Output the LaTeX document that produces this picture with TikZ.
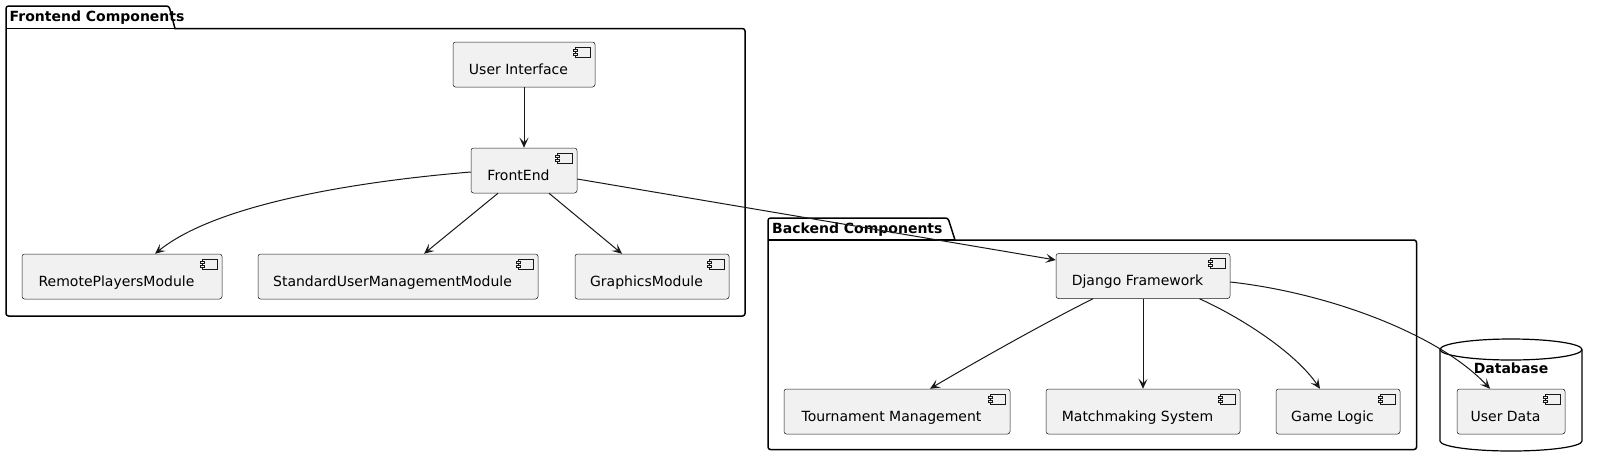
\documentclass[tikz,border=0pt]{standalone}
\usepackage{fontspec}
\setmainfont{DejaVu Sans}
\usetikzlibrary{arrows.meta,calc}
\definecolor{linec}{HTML}{181818}
\definecolor{compfill}{HTML}{F1F1F1}
\tikzset{
  comp/.style={draw=linec, fill=compfill, line width=0.5pt, rounded corners=2.5pt,
    minimum height=45pt, inner sep=0pt},
  comptext/.style={font=\fontsize{14}{16}\selectfont, inner sep=0pt, text height=10.5pt,
    text depth=3pt, xshift=-5.5pt, yshift=-6pt, text=black},
  pkg/.style={draw=black, line width=1.5pt},
  pkgtitle/.style={font=\bfseries\fontsize{14}{16}\selectfont, inner sep=0pt, anchor=west,
    text height=10.5pt, text depth=3pt},
  conn/.style={draw=linec, line width=1pt, -{Stealth[length=10pt,width=9pt,inset=4.5pt]}},
  compicon/.pic={
    \draw[draw=linec, line width=0.5pt, fill=compfill] (-20,5) rectangle (-5,15);
    \draw[draw=linec, line width=0.5pt, fill=compfill] (-22,7) rectangle (-18,9);
    \draw[draw=linec, line width=0.5pt, fill=compfill] (-22,11) rectangle (-18,13);
  }
}
\newcommand{\compbox}[5]{%
  \node[comp, minimum width=#4pt, label={[comptext]center:#5}] (#1) at (#2,#3) {};
  \pic at (#1.north east) {compicon};
}
\begin{document}
\begin{tikzpicture}[x=1pt,y=-1pt]
\useasboundingbox[fill=white] (0,0) rectangle (1598,467);

% Frontend package
\draw[pkg] (6,28.5) -- (175,28.5);
\draw[pkg, rounded corners=2.5pt] (6,316) -- (6,6) -- (169,6) [sharp corners] -- (175,28.5)
  [rounded corners=2.5pt] -- (745,28.5) -- (745,316) -- cycle;
\node[pkgtitle] (fetitle) at (9.5,17.5) {Frontend Components};

% Backend package
\draw[pkg] (768,240) -- (955,240);
\draw[pkg, rounded corners=2.5pt] (768,449.5) -- (768,218) -- (948,218) [sharp corners] -- (955,240)
  [rounded corners=2.5pt] -- (1416.5,240) -- (1416.5,449.5) -- cycle;
\node[pkgtitle] (betitle) at (772,229.5) {Backend Components};

% Database
\draw[pkg, line width=1.2pt] (1440,349.5) -- (1440,441) arc[start angle=180, end angle=0, x radius=71, y radius=10] -- (1582,349.5);
\draw[pkg, line width=1.2pt] (1511,349.5) ellipse[x radius=71, y radius=10.5];
\node[pkgtitle, anchor=center] (dbtitle) at (1511,369.5) {Database};

% Components
\compbox{ui}{524}{64.5}{142}{User Interface}
\compbox{fe}{524}{170.5}{106}{FrontEnd}
\compbox{rp}{122}{276.5}{200}{RemotePlayersModule}
\compbox{sum}{398}{276.5}{280}{StandardUserManagementModule}
\compbox{gm}{652}{276.5}{154}{GraphicsModule}
\compbox{dj}{1143}{276}{174}{Django Framework}
\compbox{tm}{897}{411.5}{226}{Tournament Management}
\compbox{ms}{1143}{411.5}{194}{Matchmaking System}
\compbox{gl}{1338}{411.5}{124}{Game Logic}
\compbox{ud}{1511}{411.5}{108}{User Data}

% Connectors
\draw[conn] (ui.south) -- (fe.north);
\draw[conn] ($(fe.west)+(0,1.5)$) .. controls (351,182) and (215,205) .. ($(rp.north)+(33,0)$);
\draw[conn] ($(fe.south)+(-26,0)$) -- ($(sum.north)+(26,0)$);
\draw[conn] ($(fe.south)+(25,0)$) -- ($(gm.north)+(-30,0)$);
\draw[conn] ($(fe.east)+(0,8.5)$) -- ($(dj.west)+(0,-16)$);
\draw[conn] ($(dj.south)+(-50,0)$) .. controls (1050,320) and (975,362) .. ($(tm.north)+(33,0)$);
\draw[conn] (dj.south) -- (ms.north);
\draw[conn] ($(dj.south)+(56.5,0)$) .. controls (1240,317) and (1295,352) .. ($(gl.north)+(-18,0)$);
\draw[conn] ($(dj.east)+(0,6)$) .. controls (1330,293) and (1440,335) .. ($(ud.north)+(-21,0)$);
\end{tikzpicture}
\end{document}
